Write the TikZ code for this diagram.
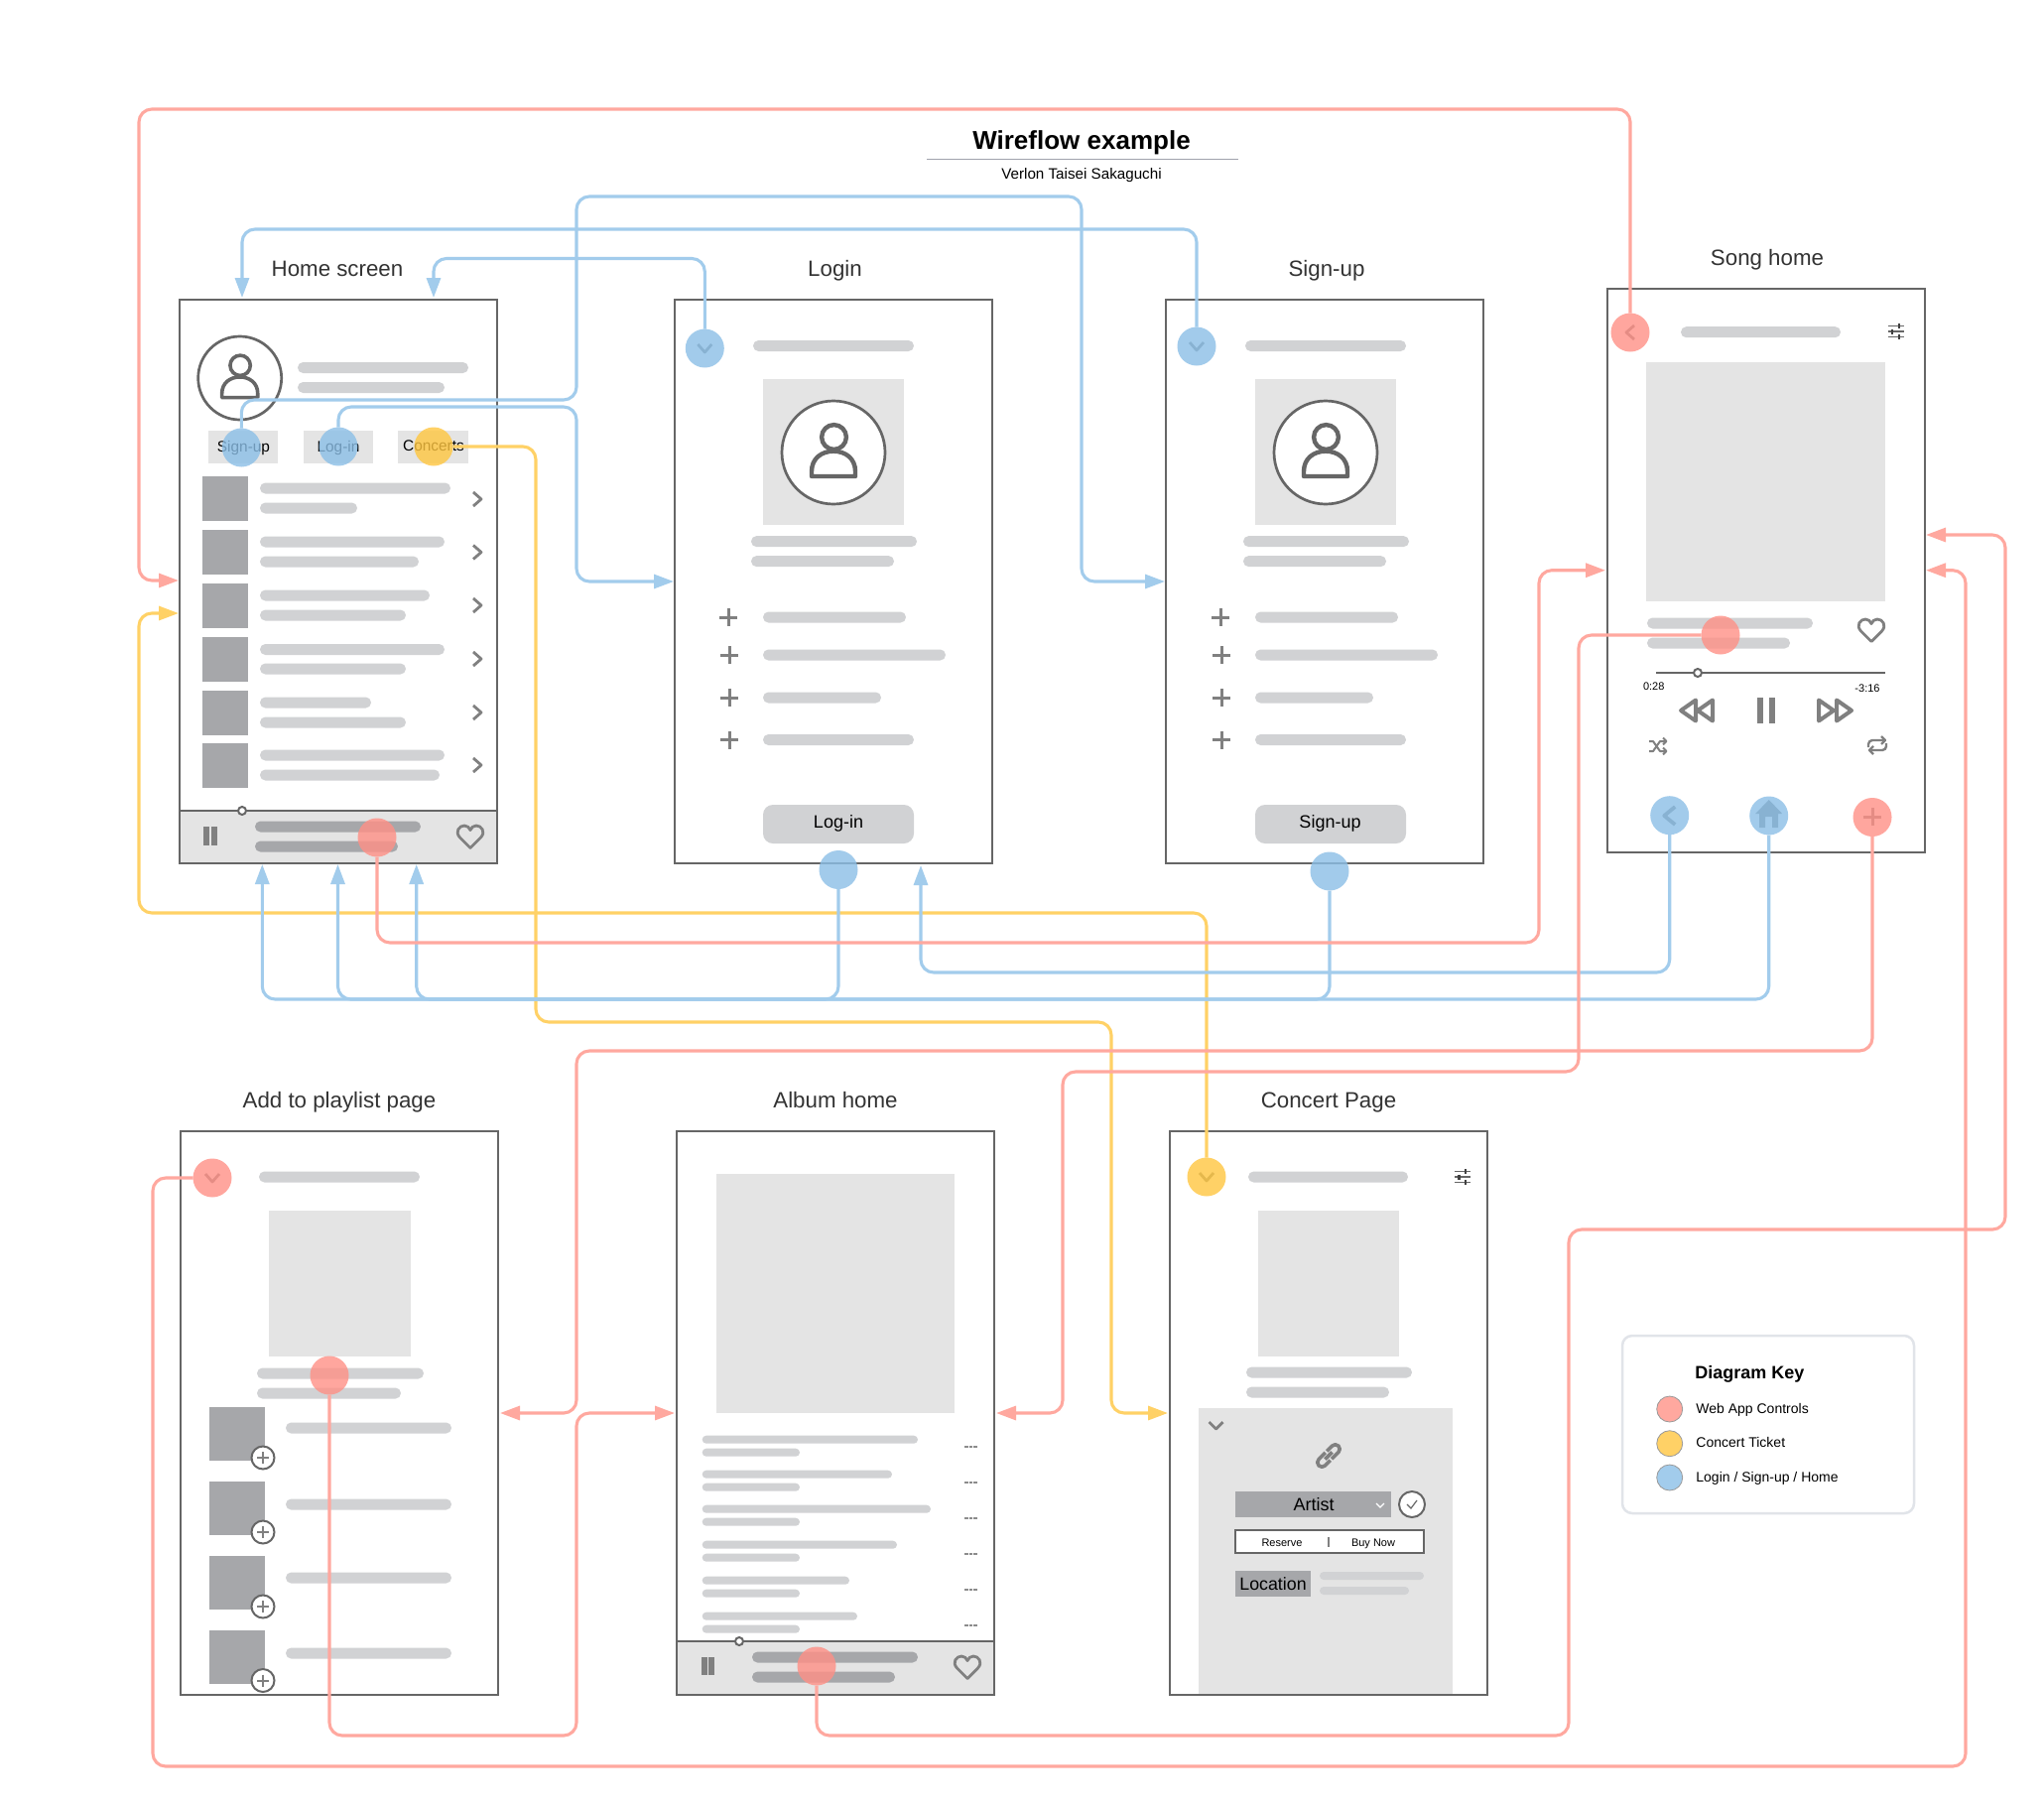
\documentclass[tikz,border=0pt]{standalone}
\usepackage{fontspec}
\setmainfont{Liberation Sans}
\usetikzlibrary{arrows.meta}
\definecolor{barc}{HTML}{D1D2D4}
\definecolor{darkb}{HTML}{A6A7AA}
\definecolor{panel}{HTML}{E4E4E4}
\definecolor{edge}{HTML}{666666}
\definecolor{iconc}{HTML}{808080}
\definecolor{redl}{HTML}{FFA89F}
\definecolor{bluel}{HTML}{A2CCEC}
\definecolor{yell}{HTML}{FFD166}
\definecolor{redd}{HTML}{FF9086}
\definecolor{blued}{HTML}{8BBFE7}
\definecolor{yeld}{HTML}{FFC640}
\definecolor{keyedge}{HTML}{E1E4E9}
\definecolor{rulec}{HTML}{A0A3AD}
\tikzset{
  wframe/.style={draw=edge,fill=white,line width=1.25pt,minimum width=160pt,minimum height=284pt,inner sep=0,outer sep=0},
  dotbase/.style={circle,draw=none,fill opacity=.8,minimum size=19.5pt,inner sep=0,outer sep=0},
  reddot/.style={dotbase,fill=redd},
  bluedot/.style={dotbase,fill=blued},
  yeldot/.style={dotbase,fill=yeld},
  conn/.style={line width=1.55pt,rounded corners=6.5pt,line join=round,-{Triangle[length=10pt,width=7pt]}},
  icon/.style={draw=iconc,line width=1.4pt,line join=round,fill=none},
  scrtitle/.style={text=black!80,anchor=base,font=\fontsize{11.15}{12}\selectfont,inner sep=0},
  lab/.style={inner sep=0,anchor=base,font=\fontsize{7.7}{9}\selectfont},
  keylab/.style={inner sep=0,anchor=base west,font=\fontsize{7}{9}\selectfont},
  smalllab/.style={inner sep=0,anchor=base,font=\fontsize{5.5}{7}\selectfont},
}
\newcommand{\gbar}[3]{\fill[barc,rounded corners=2.7pt] (#1,#3-5.5) rectangle (#2,#3+5.5);}
\newcommand{\tbar}[3]{\fill[barc,rounded corners=2pt] (#1,#3-4) rectangle (#2,#3+4);}
\newcommand{\dbar}[3]{\fill[darkb,rounded corners=2.7pt] (#1,#3-5.5) rectangle (#2,#3+5.5);}
\newcommand{\chevR}[2]{\draw[icon] (#1-4,#2-7)--(#1+4,#2)--(#1-4,#2+7);}
\newcommand{\chevL}[2]{\draw[icon] (#1+4,#2-7)--(#1-4,#2)--(#1+4,#2+7);}
\newcommand{\chevLb}[2]{\draw[icon,line width=1.9pt] (#1+5.5,#2-9)--(#1-5.5,#2)--(#1+5.5,#2+9);}
\newcommand{\chevD}[2]{\draw[icon] (#1-7,#2-4)--(#1,#2+4)--(#1+7,#2-4);}
\newcommand{\wfplus}[2]{\draw[icon,line width=1.5pt] (#1-9,#2)--(#1+9,#2) (#1,#2-9)--(#1,#2+9);}
\newcommand{\wfheart}[2]{\begin{scope}[shift={(#1,#2)}]
  \draw[icon,line width=1.4pt] (0,11.5) -- (-10.5,1) .. controls (-16,-5) and (-11,-11) .. (-6,-11) .. controls (-3,-11) and (-1,-9) .. (0,-6.5) .. controls (1,-9) and (3,-11) .. (6,-11) .. controls (11,-11) and (16,-5) .. (10.5,1) -- cycle;
\end{scope}}
\newcommand{\wfperson}[4]{\begin{scope}[shift={(#1,#2)},scale=#3]
  \draw[draw=edge,line width=#4,fill=none] (0.5,-15.5) circle (12.4);
  \draw[draw=edge,line width=#4,line join=round,fill=none] (-22,24) -- (-22,19) .. controls (-22,6) and (-12,-1.3) .. (0,-1.3) .. controls (12,-1.3) and (22,6) .. (22,19) -- (22,24) -- cycle;
\end{scope}}
\newcommand{\wfsliders}[2]{\begin{scope}[shift={(#1,#2)}]
  \draw[black!60,line width=.6pt] (-8,-5.5)--(8,-5.5) (-8,0)--(8,0) (-8,5.5)--(8,5.5);
  \draw[black!75,line width=1.2pt] (3,-8)--(3,-3) (-3.5,-2.5)--(-3.5,2.5) (3,3)--(3,8);
\end{scope}}
\newcommand{\wfpause}[4]{\fill[iconc] (#1,#3) rectangle (#1+5.5,#4); \fill[iconc] (#2,#3) rectangle (#2+5.5,#4);}
\newcommand{\formscreen}{
  \gbar{759}{921}{348.5}
  \fill[panel] (769,382) rectangle (911,529);
  \draw[edge,line width=1.35pt,fill=white] (840,456) circle (52);
  \wfperson{840}{456}{1}{2.2pt}
  \gbar{757}{924}{545.6}
  \gbar{757}{901}{565.6}
  \wfplus{734}{622}\gbar{769}{913}{622}
  \wfplus{735}{660}\gbar{769}{953}{660}
  \wfplus{735}{703}\gbar{769}{888}{703}
  \wfplus{735}{745.5}\gbar{769}{921}{745.5}
  \fill[barc,rounded corners=5pt] (769,811) rectangle (921,850);
}
\newcommand{\thumb}[2]{\fill[darkb] (204,#1) rectangle (250,#1+45); \chevR{481}{#2}}
\newcommand{\pthumb}[2]{\fill[darkb] (211,#1) rectangle (267,#1+54);
  \draw[draw=edge,line width=1pt,fill=white] (265,#2) circle (11.5);
  \draw[icon,line width=1pt] (259,#2)--(271,#2) (265,#2-6)--(265,#2+6);}
\newcommand{\arow}[3]{\tbar{707.7}{#2}{#1}\tbar{707.7}{806}{#1+13}
  \fill[black!45] (972,#3-.8) rectangle (975.5,#3+.8); \fill[black!45] (976.5,#3-.8) rectangle (980,#3+.8); \fill[black!45] (981,#3-.8) rectangle (984.5,#3+.8);}
\begin{document}
\begin{tikzpicture}[x=0.5pt,y=-0.5pt]
\useasboundingbox (0,0) rectangle (2060,1820);
\fill[white] (0,0) rectangle (2060,1820);

% titles
\node[inner sep=0,font=\fontsize{13}{15}\bfseries\selectfont] (maintitle) at (1090,143.5) {Wireflow example};
\draw[color=rulec,line width=.7pt] (934,160.5) -- (1248,160.5);
\node[inner sep=0,font=\fontsize{7.6}{9}\selectfont] (subtitle) at (1090,176.5) {Verlon Taisei Sakaguchi};
\node[scrtitle] (thome) at (340,278) {Home screen};
\node[scrtitle] (tlogin) at (841.5,278) {Login};
\node[scrtitle] (tsign) at (1337,278) {Sign-up};
\node[scrtitle] (tsong) at (1781,267.5) {Song home};
\node[scrtitle] (tplay) at (342,1116) {Add to playlist page};
\node[scrtitle] (talbum) at (842,1116) {Album home};
\node[scrtitle] (tconc) at (1339,1116) {Concert Page};

% frames
\node[wframe] (home) at (341,586) {};
\node[wframe] (login) at (840,586) {};
\node[wframe] (signup) at (1335,586) {};
\node[wframe] (song) at (1780,575) {};
\node[wframe] (play) at (342,1424) {};
\node[wframe] (album) at (842,1424) {};
\node[wframe] (concert) at (1339,1424) {};

% HOME
\draw[edge,line width=1.35pt,fill=white] (241.7,381) circle (42);
\wfperson{241.7}{381}{0.82}{1.8pt}
\gbar{300}{472}{370.5}\gbar{300}{448}{390.5}
\fill[panel] (210,434) rectangle (280,467);
\fill[panel] (306,434) rectangle (376,467);
\fill[panel] (401,434) rectangle (472,467);
\node[lab] (lsign) at (245.5,455) {Sign-up};
\node[lab] (llog) at (341,455) {Log-in};
\node[lab] (lconc) at (437,454.5) {Concerts};
\thumb{480}{503}\thumb{534}{556.5}\thumb{588}{610}\thumb{642}{664}\thumb{696}{718}\thumb{749}{771}
\gbar{262}{454}{492}\gbar{262}{360}{512}
\gbar{262}{448}{546}\gbar{262}{422}{566}
\gbar{262}{433}{600}\gbar{262}{409}{620}
\gbar{262}{448}{654.5}\gbar{262}{409}{674}
\gbar{262}{374}{708}\gbar{262}{409}{728}
\gbar{262}{448}{761}\gbar{262}{443}{781}
\draw[draw=edge,fill=panel,line width=1.1pt] (181,817) rectangle (501,870);
\draw[draw=edge,fill=white,line width=1pt] (244,817) circle (4);
\wfpause{205}{213}{833}{852}
\dbar{257}{424}{833}\dbar{257}{401}{853}
\wfheart{474}{843}

% LOGIN / SIGN-UP
\formscreen
\node[inner sep=0,font=\fontsize{9}{11}\selectfont] (lbtn) at (845,829.5) {Log-in};
\begin{scope}[shift={(496,0)}]
\formscreen
\end{scope}
\node[inner sep=0,font=\fontsize{9}{11}\selectfont] (sbtn) at (1340.5,829.5) {Sign-up};
\chevD{710.3}{351}\chevD{1206}{349}

% SONG
\chevL{1643}{335}
\gbar{1694}{1855}{334.7}
\wfsliders{1910.7}{334}
\fill[panel] (1659,365) rectangle (1900,606);
\gbar{1660}{1827}{628}\gbar{1660}{1804}{648}
\wfheart{1886}{635}
\draw[edge,line width=1.2pt] (1669,678) -- (1900,678);
\draw[draw=edge,fill=white,line width=1pt] (1711,678) circle (4);
\node[smalllab] (tcur) at (1666.7,695.5) {0:28};
\node[smalllab] (trem) at (1882,697) {-3:16};
\draw[icon,line width=2pt] (1694,716)--(1709,705.5)--(1709,726.5)--cycle (1711,716)--(1726,705.5)--(1726,726.5)--cycle;
\wfpause{1771}{1783}{703}{729}
\draw[icon,line width=2pt] (1833,705.5)--(1848,716)--(1833,726.5)--cycle (1851,705.5)--(1866,716)--(1851,726.5)--cycle;
\begin{scope}[shift={(1671,752)}]
  \draw[icon,line width=1pt] (-9,-5)--(-5,-5)--(2,5)--(8,5) (-9,5)--(-5,5)--(2,-5)--(8,-5) (5,-8.5)--(8.5,-5)--(5,-1.5) (5,1.5)--(8.5,5)--(5,8.5);
\end{scope}
\begin{scope}[shift={(1892,751)}]
  \draw[icon,line width=1.2pt,rounded corners=2pt] (-9,2)--(-9,-5)--(8,-5) (9,-2)--(9,5)--(-8,5);
  \draw[icon,line width=1.2pt] (4,-9)--(8,-5)--(4,-1) (-4,1)--(-8,5)--(-4,9);
\end{scope}
\chevLb{1682.7}{822}
\begin{scope}[shift={(1782.7,822)}]
  \fill[iconc] (0,-16) -- (13.5,-2) -- (9.5,-2) -- (9.5,12) -- (3.5,12) -- (3.5,1) -- (-3.5,1) -- (-3.5,12) -- (-9.5,12) -- (-9.5,-2) -- (-13.5,-2) -- cycle;
\end{scope}
\wfplus{1887}{823}

% PLAYLIST
\chevD{214}{1187}
\gbar{261}{423}{1186}
\fill[panel] (271,1220) rectangle (414,1367);
\gbar{259}{427}{1384}\gbar{259}{404}{1404}
\pthumb{1418}{1469}\pthumb{1493}{1544}\pthumb{1568}{1619}\pthumb{1643}{1693.5}
\gbar{288}{455}{1439}\gbar{288}{455}{1516}\gbar{288}{455}{1590}\gbar{288}{455}{1666}

% ALBUM
\fill[panel] (722,1183) rectangle (962,1424);
\arow{1450.7}{925}{1458}\arow{1485.7}{899}{1494}\arow{1520.7}{938}{1530}\arow{1556.7}{904}{1566}\arow{1592.7}{856}{1602}\arow{1628.7}{864}{1638}
\draw[draw=edge,fill=panel,line width=1.1pt] (682,1654) rectangle (1002,1708);
\draw[draw=edge,fill=white,line width=1pt] (745,1654) circle (4);
\wfpause{707}{714}{1670}{1688}
\dbar{758}{925}{1670}\dbar{758}{902}{1690}
\wfheart{975}{1680}

% CONCERT
\chevD{1216}{1186}
\gbar{1258}{1419}{1186}
\wfsliders{1474}{1186}
\fill[panel] (1268,1220) rectangle (1410,1366.5);
\gbar{1256}{1423}{1383}\gbar{1256}{1400}{1403}
\fill[panel] (1208,1419) rectangle (1464,1707);
\draw[icon] (1218.5,1433)--(1225.5,1440)--(1232.5,1433);
\begin{scope}[shift={(1339,1467)},rotate=45]
  \draw[icon,line width=1.8pt,rounded corners=2.2pt] (0,-4.5)--(-14,-4.5)--(-14,4.5)--(-2,4.5);
  \draw[icon,line width=1.8pt,rounded corners=2.2pt] (0,4.5)--(14,4.5)--(14,-4.5)--(2,-4.5);
  \draw[icon,line width=1.8pt] (-5,0)--(5,0);
\end{scope}
\fill[darkb] (1245,1503) rectangle (1402,1529);
\node[inner sep=0,font=\fontsize{9}{11}\selectfont] (artist) at (1324,1516) {Artist};
\draw[white,line width=.6pt] (1387,1515)--(1391,1519)--(1395,1515);
\draw[draw=edge,fill=white,line width=1pt] (1423,1516) circle (13);
\draw[edge,line width=.6pt] (1418,1516)--(1422,1520)--(1428,1512);
\draw[draw=edge,fill=white,line width=1pt] (1245,1542) rectangle (1435,1565);
\node[smalllab] (reserve) at (1292,1558) {Reserve};
\draw[iconc,line width=.6pt] (1339,1549)--(1339,1559);
\node[smalllab] (buynow) at (1384,1558) {Buy Now};
\fill[darkb] (1245,1583) rectangle (1321,1609);
\node[inner sep=0,font=\fontsize{8.9}{11}\selectfont] (location) at (1283,1596) {Location};
\tbar{1330}{1435}{1588}\tbar{1330}{1420}{1603}

% KEY
\draw[color=keyedge,line width=1.25pt,rounded corners=5pt] (1635,1346) rectangle (1929,1525);
\node[inner sep=0,anchor=base west,font=\fontsize{9}{11}\bfseries\selectfont] (keytitle) at (1708,1389) {Diagram Key};
\node[circle,minimum size=13pt,inner sep=0,fill=redl,draw=black!40,line width=.4pt] (keyr) at (1682.7,1420) {};
\node[circle,minimum size=13pt,inner sep=0,fill=yell,draw=black!40,line width=.4pt] (keyy) at (1682.7,1454.7) {};
\node[circle,minimum size=13pt,inner sep=0,fill=bluel,draw=black!40,line width=.4pt] (keyb) at (1682.7,1489) {};
\node[keylab] (keyrt) at (1709,1424) {Web App Controls};
\node[keylab] (keyyt) at (1709,1458.5) {Concert Ticket};
\node[keylab] (keybt) at (1709,1493) {Login / Sign-up / Home};

% anchors of connectors
\node[bluedot] (sgnbtn) at (243.3,451) {};
\node[bluedot] (logbtn) at (341,450) {};
\node[yeldot] (concbtn) at (437,450) {};
\node[reddot] (barhome) at (380,844) {};
\node[bluedot] (logindrop) at (710.3,351) {};
\node[bluedot] (signdrop) at (1206,349) {};
\node[bluedot] (loginbtn) at (845,876.5) {};
\node[bluedot] (signbtn) at (1340,878) {};
\node[reddot] (songback) at (1643,335) {};
\node[reddot] (songtitle) at (1734,640) {};
\node[bluedot] (songprev) at (1682.7,821.7) {};
\node[bluedot] (songhome) at (1782.7,822) {};
\node[reddot] (songplus) at (1887,823.5) {};
\node[reddot] (playback) at (214,1187) {};
\node[reddot] (playbar) at (332,1386) {};
\node[reddot] (albumbar) at (823,1679) {};
\node[yeldot] (concdot) at (1216,1186) {};

\coordinate (homeInA) at (180,585);
\coordinate (homeInB) at (180,618);
\coordinate (homeTopA) at (244,300);
\coordinate (homeTopB) at (437,300);
\coordinate (homeBotA) at (264.3,871);
\coordinate (homeBotB) at (340.5,871);
\coordinate (homeBotC) at (419.7,871);
\coordinate (loginIn) at (679,586);
\coordinate (signIn) at (1174,586);
\coordinate (loginBot) at (928,872);
\coordinate (songInL) at (1618,574.7);
\coordinate (songInA) at (1941,539);
\coordinate (songInB) at (1941,574.7);
\coordinate (playIn) at (504,1424);
\coordinate (albumInL) at (680,1424);
\coordinate (albumInR) at (1004,1424);
\coordinate (concIn) at (1177,1424);

% connectors
\draw[conn,yell] (concdot.north) -- (1216,920) -- (140,920) -- (140,618) -- (homeInB);
\draw[conn,yell] (concbtn.east) -- (540,450) -- (540,1030) -- (1120,1030) -- (1120,1424) -- (concIn);
\draw[conn,bluel] (sgnbtn.north) -- (243.3,403) -- (581,403) -- (581,198) -- (1090,198) -- (1090,586) -- (signIn);
\draw[conn,bluel] (logbtn.north) -- (341,410) -- (581,410) -- (581,586) -- (loginIn);
\draw[conn,bluel] (logindrop.north) -- (710.3,260.5) -- (437,260.5) -- (homeTopB);
\draw[conn,bluel] (signdrop.north) -- (1206,231) -- (244,231) -- (homeTopA);
\draw[conn,bluel] (loginbtn.south) -- (845,1007) -- (264.3,1007) -- (homeBotA);
\draw[conn,bluel] (signbtn.south) -- (1340,1007) -- (340.5,1007) -- (homeBotB);
\draw[conn,bluel] (songhome.south) -- (1782.7,1007) -- (419.7,1007) -- (homeBotC);
\draw[conn,bluel] (songprev.south) -- (1682.7,980) -- (928,980) -- (loginBot);
\draw[conn,redl] (songback.north) -- (1643,110) -- (140,110) -- (140,585) -- (homeInA);
\draw[conn,redl] (barhome.south) -- (380,950) -- (1551,950) -- (1551,574.7) -- (songInL);
\draw[conn,redl] (songtitle.west) -- (1591,640) -- (1591,1080) -- (1071,1080) -- (1071,1424) -- (albumInR);
\draw[conn,redl] (songplus.south) -- (1887,1059) -- (581,1059) -- (581,1424) -- (playIn);
\draw[conn,redl] (playbar.south) -- (332,1749) -- (581,1749) -- (581,1424) -- (albumInL);
\draw[conn,redl] (albumbar.south) -- (823,1749) -- (1581,1749) -- (1581,1239) -- (2021,1239) -- (2021,539) -- (songInA);
\draw[conn,redl] (playback.west) -- (154,1187) -- (154,1780) -- (1981,1780) -- (1981,574.7) -- (songInB);
\end{tikzpicture}
\end{document}
